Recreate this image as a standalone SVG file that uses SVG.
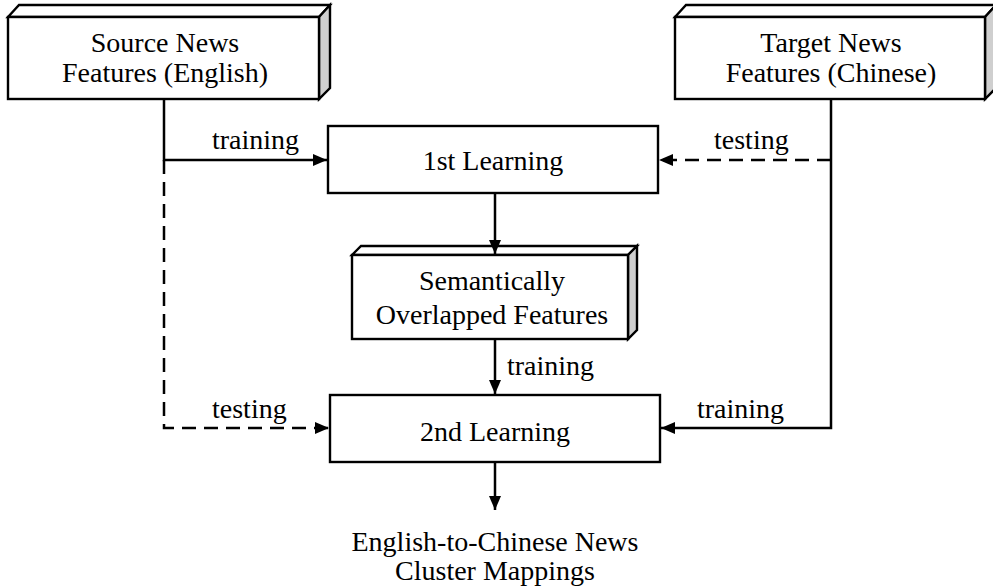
<svg xmlns="http://www.w3.org/2000/svg" width="993" height="587" viewBox="0 0 993 587">
  <defs>
    <marker id="arrow" viewBox="0 0 14 12" refX="14" refY="6" markerWidth="14" markerHeight="12" markerUnits="userSpaceOnUse" orient="auto">
      <path d="M0,0 L14,6 L0,12 Z" fill="#000"/>
    </marker>
  </defs>
  <style>
    .face { fill: #fff; stroke: #000; stroke-width: 2.4; stroke-linejoin: miter; }
    .side { fill: #cfcfcf; stroke: #000; stroke-width: 2.4; stroke-linejoin: miter; }
    .txt { font-family: "Liberation Serif", "Times New Roman", serif; font-size: 28px; fill: #000; text-anchor: middle; }
    .lbl { font-family: "Liberation Serif", "Times New Roman", serif; font-size: 28px; fill: #000; }
    .line { fill: none; stroke: #000; stroke-width: 2.5; }
    .dash { stroke-dasharray: 14 8; }
  </style>
  <rect width="993" height="587" fill="#fff"/>

  <!-- Source corpus (3D box) -->
  <g id="source">
    <polygon class="face" points="8,17 19,5 330,5 319,17"/>
    <polygon class="side" points="319,17 330,5 330,88 319,99"/>
    <rect class="face" x="8" y="17" width="311" height="82"/>
    <text class="txt" x="165" y="52">Source News</text>
    <text class="txt" x="165" y="82">Features (English)</text>
  </g>

  <!-- Target corpus (3D box) -->
  <g id="target">
    <polygon class="face" points="675,17 686,5 996,5 985,17"/>
    <polygon class="side" points="985,17 996,5 996,88 985,99"/>
    <rect class="face" x="675" y="17" width="310" height="82"/>
    <text class="txt" x="831" y="52">Target News</text>
    <text class="txt" x="831" y="82">Features (Chinese)</text>
  </g>

  <!-- First learner -->
  <g id="learn1">
    <rect class="face" x="328" y="126" width="330" height="67"/>
    <text class="txt" x="493" y="170">1st Learning</text>
  </g>

  <!-- Intermediate features (3D box) -->
  <g id="overlap">
    <polygon class="face" points="352,255 361,246 637,246 628,255"/>
    <polygon class="side" points="628,255 637,246 637,330 628,339"/>
    <rect class="face" x="352" y="255" width="276" height="84"/>
    <text class="txt" x="492" y="290">Semantically</text>
    <text class="txt" x="492" y="324">Overlapped Features</text>
  </g>

  <!-- Second learner -->
  <g id="learn2">
    <rect class="face" x="330" y="395" width="330" height="67"/>
    <text class="txt" x="495" y="441">2nd Learning</text>
  </g>

  <!-- Output -->
  <g id="output">
    <text class="txt" x="495" y="551">English-to-Chinese News</text>
    <text class="txt" x="495" y="580">Cluster Mappings</text>
  </g>

  <g id="connectors">
    <!-- source side -->
    <path class="line" d="M164,99 V160 H327" marker-end="url(#arrow)"/>
    <path class="line dash" d="M164,160 V428 H329" marker-end="url(#arrow)"/>
    <!-- target side -->
    <path class="line" d="M831,99 V428 H661" marker-end="url(#arrow)"/>
    <path class="line dash" d="M831,160 H659" marker-end="url(#arrow)"/>
    <!-- main chain -->
    <path class="line" d="M495,193 V254" marker-end="url(#arrow)"/>
    <path class="line" d="M495,339 V394" marker-end="url(#arrow)"/>
    <path class="line" d="M495,462 V510" marker-end="url(#arrow)"/>
  </g>

  <g id="labels">
    <text class="lbl" x="212" y="149">training</text>
    <text class="lbl" x="714" y="149">testing</text>
    <text class="lbl" x="507" y="375">training</text>
    <text class="lbl" x="212" y="418">testing</text>
    <text class="lbl" x="697" y="418">training</text>
  </g>
</svg>
